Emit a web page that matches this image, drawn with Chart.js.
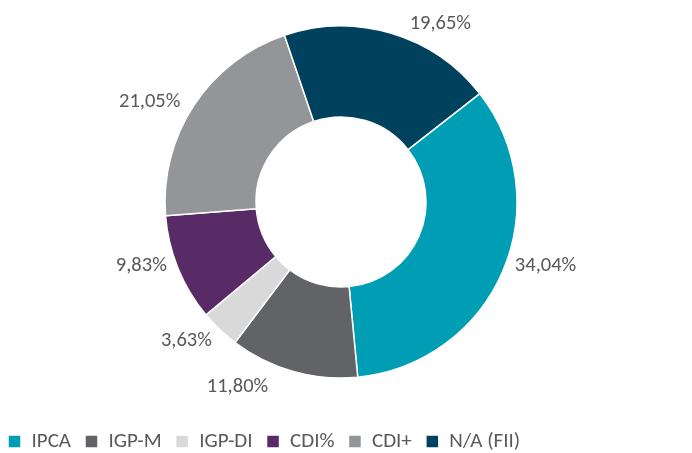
<!DOCTYPE html>
<html>
<head>
<meta charset="utf-8">
<script src="https://cdn.jsdelivr.net/npm/chart.js@4.4.1/dist/chart.umd.min.js"></script>
<style>
  html, body { margin: 0; padding: 0; background: #ffffff; overflow: hidden; }
  #wrap { width: 692px; height: 453px; position: relative; overflow: hidden; }
  #c { position: absolute; left: -10px; top: -14px; }
</style>
</head>
<body>
<div id="wrap"><canvas id="c" width="712" height="477"></canvas></div>
<script>
const categories = ['IPCA', 'IGP-M', 'IGP-DI', 'CDI%', 'CDI+', 'N/A (FII)'];
const shares = [34.04, 11.80, 3.63, 9.83, 21.05, 19.65];
const sliceColors = ['#009EB5', '#626366', '#D9D9D9', '#582A66', '#939598', '#00415E'];

// label placement tweaks (best-fit style nudges, degrees / px beyond the outer edge)
const labelAngleNudge = [-4, 11, 2, 3, -3, 10];
const labelGap = [10, 23, 15, 10, 15, 15];

const FONT = 'Carlito, Calibri, Lato, "Liberation Sans", sans-serif';

function fmt(v) { return v.toFixed(2).replace('.', ',') + '%'; }

const outsideLabels = {
  id: 'outsideLabels',
  afterDatasetsDraw(chart) {
    const ctx = chart.ctx;
    const meta = chart.getDatasetMeta(0);
    ctx.save();
    ctx.font = '20.5px ' + FONT;
    ctx.fillStyle = '#595959';
    ctx.textAlign = 'center';
    ctx.textBaseline = 'middle';
    meta.data.forEach((arc, i) => {
      const p = arc.getProps(['x', 'y', 'startAngle', 'endAngle', 'outerRadius'], true);
      const mid = (p.startAngle + p.endAngle) / 2 + labelAngleNudge[i] * Math.PI / 180;
      const dx = Math.cos(mid), dy = Math.sin(mid);
      const txt = fmt(shares[i]);
      const w = ctx.measureText(txt).width;
      const h = 16;
      const r = p.outerRadius + labelGap[i];
      const x = p.x + dx * r + dx * w / 2;
      const y = p.y + dy * r + dy * h / 2;
      ctx.fillText(txt, x, y);
    });
    ctx.restore();
  }
};

new Chart(document.getElementById('c'), {
  type: 'doughnut',
  data: {
    labels: categories,
    datasets: [{
      data: shares,
      backgroundColor: sliceColors,
      borderColor: '#ffffff',
      borderWidth: 1.5
    }]
  },
  options: {
    responsive: false,
    animation: false,
    rotation: 52,
    cutout: '48.3%',
    radius: 176,
    layout: { padding: { top: 1, bottom: 1, left: 4, right: 14 } },
    plugins: {
      tooltip: { enabled: false },
      legend: {
        position: 'bottom',
        align: 'start',
        labels: {
          boxWidth: 13,
          boxHeight: 13,
          padding: 14,
          color: '#595959',
          font: { family: FONT, size: 21 }
        }
      }
    }
  },
  plugins: [outsideLabels]
});
</script>
</body>
</html>
